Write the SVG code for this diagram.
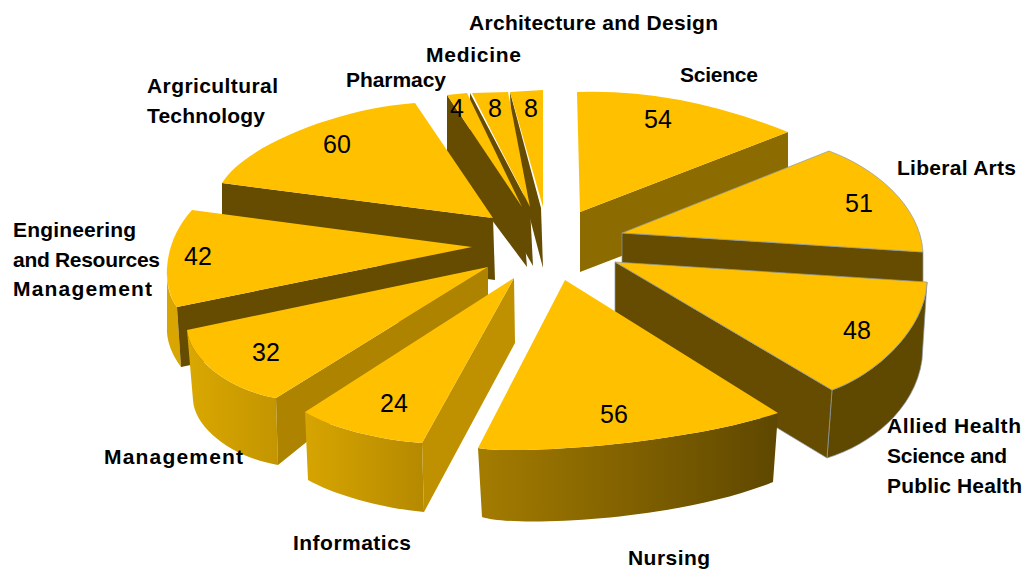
<svg xmlns="http://www.w3.org/2000/svg" width="1027" height="571" viewBox="0 0 1027 571">
<defs>
<style>
.top{fill:#FFC000}
.dk{fill:#654C00}
.ln{stroke:#8D9AA6;stroke-width:0.7}
.lab{font-family:"Liberation Sans",Arial,sans-serif;font-weight:bold;font-size:21px;fill:#000}
.val{font-family:"Liberation Sans",Arial,sans-serif;font-size:25px;fill:#000;text-anchor:middle}
</style>
<linearGradient id="gNur" gradientUnits="userSpaceOnUse" x1="478" y1="0" x2="778" y2="0">
<stop offset="0" stop-color="#A47C00"/><stop offset="1" stop-color="#5E4700"/>
</linearGradient>
<linearGradient id="gInf" gradientUnits="userSpaceOnUse" x1="305" y1="0" x2="424" y2="0">
<stop offset="0" stop-color="#D7A500"/><stop offset="1" stop-color="#B58900"/>
</linearGradient>
<linearGradient id="gMan" gradientUnits="userSpaceOnUse" x1="187" y1="0" x2="278" y2="0">
<stop offset="0" stop-color="#DAA800"/><stop offset="1" stop-color="#C39500"/>
</linearGradient>
</defs>
<rect width="1027" height="571" fill="#fff"/>

<g id="science">
<path d="M580,212 L788,132 L788,192 L580,272 Z" fill="#8C6B00"/>
<path class="top" d="M577,92 Q678,88 788,132 L580,212 Z"/>
<text class="val" x="658" y="128">54</text>
<text class="lab" x="680" y="82" textLength="78">Science</text>
</g>

<g id="architecture">
<path class="dk" d="M510,92 L541,208 L543,268 L512,150 Z"/>
<path class="top" d="M510,92 L543,90 L543,207 Z"/>
<text class="val" x="531" y="117">8</text>
<text class="lab" x="469" y="30" textLength="249">Architecture and Design</text>
</g>

<g id="medicine">
<path class="dk" d="M470,93 L530,207 L533,266 L470,155 Z"/>
<path class="top" d="M472,93 L508,92 L530,207 Z"/>
<text class="val" x="495" y="117">8</text>
<text class="lab" x="426" y="62" textLength="95">Medicine</text>
</g>

<g id="pharmacy">
<path class="dk" d="M447,95 L522,207 L527,267 L447,160 Z"/>
<path class="top" d="M447,95 L467,93 L522,207 Z"/>
<text class="val" x="457" y="117">4</text>
<text class="lab" x="346" y="87" textLength="100">Pharmacy</text>
</g>

<g id="agricultural">
<path class="dk" d="M222,183 L493,218 L495,280 L222,245 Z"/>
<path class="top" d="M222,183 C245,145 340,108 415,103 L493,218 Z"/>
<text class="val" x="337" y="153">60</text>
<text class="lab" x="147" y="93" textLength="131">Argricultural</text>
<text class="lab" x="147" y="123" textLength="118">Technology</text>
</g>

<g id="liberal-arts">
<path class="dk ln" d="M622,233 L923,252 L923,312 L622,293 Z"/>
<path class="top ln" d="M622,233 L829,151 C875,168 920,205 923,252 Z"/>
<text class="val" x="859" y="212">51</text>
<text class="lab" x="897" y="175" textLength="119">Liberal Arts</text>
</g>

<g id="engineering">
<path d="M167,267 C166,285 170,298 177,307 L181,367 C172,355 166,340 167,327 Z" fill="#D9A500"/>
<path class="dk" d="M177,307 L472,247 L472,307 L181,367 Z"/>
<path class="top" d="M192,210 L472,247 L177,307 C163,290 160,245 192,210 Z"/>
<text class="val" x="198" y="265">42</text>
<text class="lab" x="13" y="237" textLength="123">Engineering</text>
<text class="lab" x="13" y="267" textLength="147">and Resources</text>
<text class="lab" x="13" y="296" textLength="139">Management</text>
</g>

<g id="allied-health">
<path class="ln" d="M832,390 C875,375 925,330 927,282 L922,360 C915,410 870,445 827,458 Z" fill="#5F4800"/>
<path class="dk ln" d="M615,262 L832,390 L827,458 L615,330 Z"/>
<path class="top ln" d="M615,262 L927,282 C925,330 875,375 832,390 Z"/>
<text class="val" x="857" y="339">48</text>
<text class="lab" x="887" y="433" textLength="134">Allied Health</text>
<text class="lab" x="887" y="463" textLength="120">Science and</text>
<text class="lab" x="887" y="493" textLength="135">Public Health</text>
</g>

<g id="management">
<path d="M187,330 C190,360 230,390 276,398 L278,465 C235,458 195,430 193,400 Z" fill="url(#gMan)"/>
<path d="M276,398 L488,267 L488,296 L278,465 Z" fill="#AD8300"/>
<path class="top" d="M187,330 L488,267 L276,398 C230,390 190,360 187,330 Z"/>
<text class="val" x="266" y="361">32</text>
<text class="lab" x="104" y="464" textLength="139">Management</text>
</g>

<g id="informatics">
<path d="M305,412 C330,428 380,440 422,443 L424,512 C380,508 335,495 308,480 Z" fill="url(#gInf)"/>
<path d="M422,443 L514,278 L515,343 L424,512 Z" fill="#BF9100"/>
<path class="top" d="M305,412 L514,278 L422,443 C380,440 330,428 305,412 Z"/>
<text class="val" x="394" y="412">24</text>
<text class="lab" x="293" y="550" textLength="118">Informatics</text>
</g>

<g id="nursing">
<path d="M478,448 C515,455 680,445 778,413 L773,482 C680,520 515,528 482,517 Z" fill="url(#gNur)"/>
<path class="top" d="M565,280 L778,413 C680,445 515,455 478,448 Z"/>
<text class="val" x="614" y="423">56</text>
<text class="lab" x="628" y="565" textLength="82">Nursing</text>
</g>

<g id="connectors"></g>
</svg>
